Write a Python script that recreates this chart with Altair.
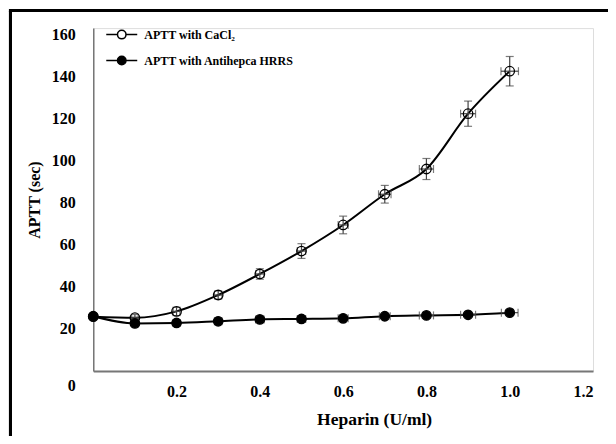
import altair as alt
import pandas as pd

# ---- data ----
heparin = [0.0, 0.1, 0.2, 0.3, 0.4, 0.5, 0.6, 0.7, 0.8, 0.9, 1.0]
series_names = ["APTT with CaCl\u2082", "APTT with Antihepca HRRS"]

cacl2 = [25.8, 25.3, 28.3, 36.1, 46.1, 57.0, 69.4, 84.0, 96.0, 122.3, 142.5]
cacl2_sd = [0.8, 1.5, 2.0, 2.0, 2.5, 3.5, 4.2, 4.2, 5.0, 6.0, 7.0]
cacl2_xsd = [0.0, 0.008, 0.008, 0.009, 0.01, 0.01, 0.012, 0.015, 0.017, 0.018, 0.021]

hrrs = [26.0, 22.6, 22.8, 23.6, 24.5, 24.7, 25.0, 26.0, 26.4, 26.7, 27.7]
hrrs_sd = [0.5, 0.5, 0.5, 0.5, 0.5, 0.5, 0.5, 0.5, 0.5, 0.5, 0.5]
hrrs_xsd = [0.0, 0.008, 0.008, 0.009, 0.01, 0.01, 0.012, 0.013, 0.017, 0.018, 0.02]

y_ticks = [0, 20, 40, 60, 80, 100, 120, 140, 160]
x_ticks = [0.2, 0.4, 0.6, 0.8, 1.0, 1.2]

rows = []
for name, ys, sds, xsds in [
    (series_names[0], cacl2, cacl2_sd, cacl2_xsd),
    (series_names[1], hrrs, hrrs_sd, hrrs_xsd),
]:
    for x, y, sd, xsd in zip(heparin, ys, sds, xsds):
        rows.append({"series": name, "x": x, "y": y, "ylo": y - sd, "yhi": y + sd,
                     "xlo": x - xsd, "xhi": x + xsd})
df = pd.DataFrame(rows)

W, H = 500, 343
FONT = "Liberation Serif"
XT = "Heparin (U/ml)"
YT = "APTT (sec)"

xscale = alt.Scale(domain=[0, 1.2], nice=False, zero=False)
yscale = alt.Scale(domain=[0, 163], nice=False, zero=False)

xaxis = alt.Axis(values=x_ticks, format=".1f", ticks=False, grid=False,
                 domainColor="#777777", domainWidth=2,
                 labelFont=FONT, labelFontWeight="bold", labelFontSize=16,
                 labelColor="black", labelPadding=13,
                 titleFont=FONT, titleFontWeight="bold", titleFontSize=17.5,
                 titleColor="black", titleX=281, titleY=49, titleBaseline="middle")
yaxis = alt.Axis(values=y_ticks, ticks=False, grid=False,
                 domainColor="#777777", domainWidth=1.5,
                 labelFont=FONT, labelFontWeight="bold", labelFontSize=16,
                 labelColor="black", labelPadding=18,
                 labelOffset={"condition": {"test": "datum.value === 0", "value": 15}, "value": 0},
                 titleFont=FONT, titleFontWeight="bold", titleFontSize=16,
                 titleColor="black", titlePadding=9)

X = alt.X("x:Q", scale=xscale, axis=xaxis, title=XT)
Y = alt.Y("y:Q", scale=yscale, axis=yaxis, title=YT)

base = alt.Chart(df)

line = base.mark_line(color="black", strokeWidth=2, interpolate="monotone").encode(
    x=X, y=Y, detail="series:N")

ybars = base.mark_errorbar(ticks={"size": 8}, color="#444444", thickness=1.2).encode(
    x=X,
    y=alt.Y("ylo:Q", scale=yscale, axis=yaxis, title=YT),
    y2="yhi:Q")

xbars = base.mark_errorbar(ticks={"size": 8}, color="#444444", thickness=1.2).encode(
    y=Y,
    x=alt.X("xlo:Q", scale=xscale, axis=xaxis, title=XT),
    x2="xhi:Q")

sym = ("M-2,0H-0.55 M0.55,0H2 "
       "M-0.55,0A0.55,0.55,0,1,1,0.55,0A0.55,0.55,0,1,1,-0.55,0Z")

points = base.mark_point(shape="circle", stroke="black", strokeWidth=1.3, opacity=1,
                         fillOpacity=1, size=90).encode(
    x=X, y=Y,
    fill=alt.Fill("series:N",
                  scale=alt.Scale(domain=series_names, range=["transparent", "black"]),
                  legend=alt.Legend(title=None, orient="none", legendX=20, legendY=-2,
                                    symbolType=sym, symbolSize=240,
                                    symbolStrokeColor="black", symbolStrokeWidth=1.5,
                                    labelFont=FONT, labelFontWeight="bold",
                                    labelFontSize=12, labelColor="black",
                                    labelOffset=14, rowPadding=10, padding=0)))

border_left = alt.Chart(df).mark_rule(color="black", strokeWidth=3).encode(
    x=alt.value(-82.8), y=alt.value(-17.5), y2=alt.value(H + 65))
border_top = alt.Chart(df).mark_rule(color="black", strokeWidth=3).encode(
    y=alt.value(-17.5), x=alt.value(-84.3), x2=alt.value(W + 15))

chart = alt.layer(border_left, border_top, line, ybars, xbars, points).properties(
    width=W, height=H,
    autosize=alt.AutoSizeParams(type="none"),
    padding={"left": 85.3, "top": 20, "right": 15, "bottom": 65},
).configure_view(stroke=None).configure(background="white")

chart.save("out.html", embed_options={"renderer": "svg", "actions": False})
